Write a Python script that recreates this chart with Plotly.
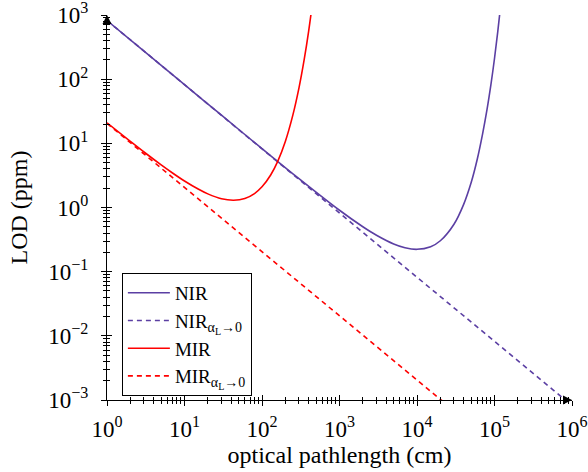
import plotly.graph_objects as go

# Optical pathlength (cm) and limit of detection (ppm)
nir_L = [1, 3, 10, 30, 100, 300, 1000, 2000, 3000, 5000, 7000, 10000, 15000,
         20000, 30000, 40000, 50000, 60000, 70000, 80000, 90000, 100000,
         110000, 120000]
nir_lod = [820, 273.4, 82.1, 27.4, 8.28, 2.82, 0.906, 0.501, 0.369, 0.270,
           0.236, 0.223, 0.245, 0.303, 0.549, 1.12, 2.45, 5.7, 13.8, 33.5,
           83, 210, 540, 1400]

nir0_L = [1, 1000000]
nir0_lod = [820, 0.00082]

mir_L = [1, 2, 3, 5, 7, 10, 15, 20, 30, 43, 60, 80, 100, 130, 160, 200, 250,
         300, 350, 400, 450]
mir_lod = [20.9, 10.74, 7.33, 4.61, 3.45, 2.59, 1.94, 1.63, 1.37, 1.30, 1.38,
           1.65, 2.10, 3.24, 5.29, 10.7, 27.5, 73.2, 201, 562, 1600]

mir0_L = [1, 100000]
mir0_lod = [20.5, 0.000205]

x_major = [1, 10, 100, 1000, 10000, 100000, 1000000]
x_labels = ["10<sup>0</sup>", "10<sup>1</sup>", "10<sup>2</sup>", "10<sup>3</sup>",
            "10<sup>4</sup>", "10<sup>5</sup>", "10<sup>6</sup>"]
y_major = [0.001, 0.01, 0.1, 1, 10, 100, 1000]
y_labels = ["10<sup>−3</sup>", "10<sup>−2</sup>", "10<sup>−1</sup>", "10<sup>0</sup>",
            "10<sup>1</sup>", "10<sup>2</sup>", "10<sup>3</sup>"]

PURPLE = "#5b3fa3"
RED = "#ff0000"
FONT = "Liberation Serif"

# subscript "α_L → 0" for the non-absorbing limits
LIMIT_SUB = ("<sub><span style='font-size:14px'>α</span>"
             "<sub><span style='font-size:10px'>L</span></sub>"
             "<span style='font-size:14px'>→0</span></sub>")


def minor_ticks(majors):
    vals = []
    for m in majors[:-1]:
        vals += [m * k for k in range(2, 10)]
    return vals


x_minor = minor_ticks(x_major)
y_minor = minor_ticks(y_major)

fig = go.Figure()

fig.add_trace(go.Scatter(x=nir_L, y=nir_lod, mode="lines", name="NIR",
                         line=dict(color=PURPLE, width=1.6, shape="spline", smoothing=1.0)))
fig.add_trace(go.Scatter(x=nir0_L, y=nir0_lod, mode="lines",
                         name="NIR" + LIMIT_SUB,
                         line=dict(color=PURPLE, width=1.6, dash="5px,4px")))
fig.add_trace(go.Scatter(x=mir_L, y=mir_lod, mode="lines", name="MIR",
                         line=dict(color=RED, width=1.6, shape="spline", smoothing=1.0)))
fig.add_trace(go.Scatter(x=mir0_L, y=mir0_lod, mode="lines",
                         name="MIR" + LIMIT_SUB,
                         line=dict(color=RED, width=1.6, dash="5px,4px")))

# empty trace hosting the overlay axes that carry the inner half of each tick
fig.add_trace(go.Scatter(x=[], y=[], xaxis="x2", yaxis="y2", showlegend=False,
                         hoverinfo="skip"))

# arrow tips at the far ends of the two axis lines
fig.add_trace(go.Scatter(x=[x_major[-1]], y=[y_major[0]], mode="markers",
                         marker=dict(symbol="arrow-right", size=9, color="black"),
                         cliponaxis=False, showlegend=False, hoverinfo="skip"))
fig.add_trace(go.Scatter(x=[x_major[0]], y=[y_major[-1]], mode="markers",
                         marker=dict(symbol="arrow-up", size=9, color="black"),
                         cliponaxis=False, showlegend=False, hoverinfo="skip"))

common = dict(type="log", showgrid=False, zeroline=False, automargin=False)

fig.update_layout(
    width=588, height=472,
    margin=dict(l=107, r=16, t=15, b=72),
    paper_bgcolor="white", plot_bgcolor="white",
    font=dict(family=FONT, color="black"),
    showlegend=True,
    legend=dict(x=0.032, y=0.33, xanchor="left", yanchor="top",
                bordercolor="black", borderwidth=1, bgcolor="white",
                font=dict(size=19, family=FONT), tracegroupgap=0, itemwidth=42),
    xaxis=dict(**common, range=[0, 6], showline=True, linecolor="black", linewidth=1,
               tickmode="array", tickvals=x_major, ticktext=x_labels,
               ticks="outside", ticklen=5, tickcolor="black", tickwidth=1,
               minor=dict(tickmode="array", tickvals=x_minor, ticks="outside",
                          ticklen=3, tickcolor="black", tickwidth=0.8),
               tickfont=dict(size=23, family=FONT), ticklabelstandoff=3,
               ticklabeloverflow="allow",
               title=dict(text="optical pathlength (cm)", font=dict(size=24, family=FONT),
                          standoff=1)),
    yaxis=dict(**common, range=[-3, 3], showline=True, linecolor="black", linewidth=1,
               tickmode="array", tickvals=y_major, ticktext=y_labels,
               ticks="outside", ticklen=5, tickcolor="black", tickwidth=1,
               minor=dict(tickmode="array", tickvals=y_minor, ticks="outside",
                          ticklen=3, tickcolor="black", tickwidth=0.8),
               tickfont=dict(size=23, family=FONT), ticklabelstandoff=8,
               ticklabeloverflow="allow",
               title=dict(text="LOD (ppm)", font=dict(size=24, family=FONT), standoff=13)),
    xaxis2=dict(**common, range=[0, 6], overlaying="x", anchor="y2", side="bottom",
                showline=False, showticklabels=False,
                tickmode="array", tickvals=x_major,
                ticks="inside", ticklen=5, tickcolor="black", tickwidth=1,
                minor=dict(tickmode="array", tickvals=x_minor, ticks="inside",
                           ticklen=3, tickcolor="black", tickwidth=0.8)),
    yaxis2=dict(**common, range=[-3, 3], overlaying="y", anchor="x2", side="left",
                showline=False, showticklabels=False,
                tickmode="array", tickvals=y_major,
                ticks="inside", ticklen=5, tickcolor="black", tickwidth=1,
                minor=dict(tickmode="array", tickvals=y_minor, ticks="inside",
                           ticklen=3, tickcolor="black", tickwidth=0.8)),
)

fig.write_html("out.html")
